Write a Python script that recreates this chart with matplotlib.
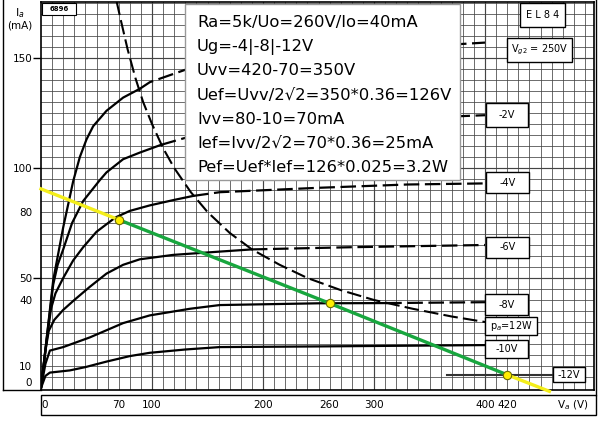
import numpy as np
import matplotlib
matplotlib.use("Agg")
import matplotlib.pyplot as plt
from matplotlib.patches import Rectangle

W, H = 600, 421

# EL84 anode characteristics, Vg2 = 250 V: anode voltage (V) / anode current (mA)
UG0_V = [0, 5, 11, 20, 29, 35, 41, 47, 59, 74, 89, 98, 132, 200, 300, 400]
UG0_I = [0, 22, 49, 73, 94, 105, 113, 119, 126, 132, 136, 139, 145, 150, 154, 157]
UG2_V = [0, 5, 11, 15, 20, 28, 38, 53, 59, 74, 89, 108, 132, 200, 300, 400]
UG2_I = [0, 22, 47, 56, 63, 75, 85, 94.5, 98, 104, 107, 110.5, 114, 118, 122, 124]
UG4_V = [0, 5, 9, 13, 20, 29, 38, 50, 67, 80, 98, 120, 137, 161, 250, 330, 400]
UG4_I = [0, 21, 36, 43, 50, 58, 64, 71, 77.5, 80.5, 83, 85.5, 87.3, 89, 91, 92.5, 93]
UG6_V = [0, 4, 7, 12, 20, 30, 44, 59, 74, 89, 119, 161, 190, 280, 400]
UG6_I = [0, 17, 26, 31, 35.5, 40, 46, 52, 56, 58.5, 60.5, 62, 63, 64, 65]
UG8_V = [0, 4, 8, 20, 44, 74, 98, 134, 161, 250, 311, 400]
UG8_I = [0, 11, 17, 18.6, 23, 29.5, 33, 36, 37.7, 38.5, 38.6, 39]
UG10_V = [0, 4, 8, 26, 40, 59, 80, 98, 130, 161, 250, 400]
UG10_I = [0, 5.5, 7, 8, 9.5, 12, 14.5, 16, 17.5, 18.6, 18.9, 19.5]
UG12_V = [366, 461]
UG12_I = [6, 6]

# max anode dissipation pa = 12 W
PA_V = [68, 72, 78, 85, 92, 100, 110, 120, 135, 150, 170, 190, 215, 240, 270, 300, 335, 370, 400]
PA_I = [176, 167, 154, 141, 130, 120, 109, 100, 89, 80, 70.5, 63, 56, 50, 44.5, 40, 36, 32.5, 30]

# 5k load line and its three working points
LOAD_V = [0, 70, 260, 420, 458]
LOAD_I = [90.5, 76.5, 38.5, 6.0, -1.5]
OP_V = [70, 260, 420]
OP_I = [76.5, 38.5, 6.0]

X_MAJOR = [0, 100, 200, 300, 400]
X_MINOR = [70, 260, 420]
Y_MAJOR = [50, 100, 150]
Y_MINOR = [0, 10, 40, 80]

NOTES = ["Ra=5k/Uo=260V/Io=40mA", "Ug=-4|-8|-12V", "Uvv=420-70=350V",
         "Uef=Uvv/2\u221a2=350*0.36=126V", "Ivv=80-10=70mA",
         "Ief=Ivv/2\u221a2=70*0.36=25mA", "Pef=Uef*Ief=126*0.025=3.2W"]

YELLOW, GREEN = "#f4ee1a", "#18a63e"


def fx(px):
    return px / W


def fy(py):
    return 1 - py / H


fig = plt.figure(figsize=(6, 4.21), dpi=100)
ax = fig.add_axes([fx(41), fy(390), (594 - 41) / W, (390 - 2) / H])
ax.set_xlim(0, (594 - 41) / 1.11)
ax.set_ylim(-2 / 2.2, 386 / 2.2)

# graph paper
for v in range(10, 500, 10):
    ax.axvline(v, color="#444444", lw=0.85 if v % 100 == 0 else 0.55, zorder=1)
for i in range(5, 180, 5):
    ax.axhline(i, color="#444444", lw=0.85 if i % 50 == 0 else 0.55, zorder=1)

for v, i in [(UG0_V, UG0_I), (UG2_V, UG2_I), (UG4_V, UG4_I), (UG6_V, UG6_I),
             (UG8_V, UG8_I), (UG10_V, UG10_I)]:
    v, i = np.array(v, float), np.array(i, float)
    ok = v * i <= 12120
    k = np.argmin(ok) if not ok.all() else len(v)
    ax.plot(v[:k], i[:k], color="black", lw=1.6, zorder=3, solid_joinstyle="round")
    if k < len(v):
        ax.plot(v[k - 1:], i[k - 1:], color="black", lw=1.6, dashes=(7, 2.5), zorder=3)
ax.plot(UG12_V, UG12_I, color="#333333", lw=1.5, zorder=3)
ax.plot(PA_V, PA_I, color="black", lw=1.5, dashes=(7, 2.5), zorder=3)

ax.plot(LOAD_V[:2], LOAD_I[:2], color=YELLOW, lw=2.4, zorder=4, clip_on=False)
ax.plot(LOAD_V[1:4], LOAD_I[1:4], color=GREEN, lw=2.4, zorder=4)
ax.plot(LOAD_V[3:], LOAD_I[3:], color=YELLOW, lw=2.4, zorder=4, clip_on=False)
ax.plot(OP_V, OP_I, "o", ms=6, mfc="#ffee00", mec="#6b6b00", mew=0.8, zorder=5)

ax.set_xticks(X_MAJOR, [str(v) for v in X_MAJOR])
ax.set_xticks(X_MINOR, [str(v) for v in X_MINOR], minor=True)
ax.set_yticks(Y_MAJOR, [str(v) for v in Y_MAJOR])
ax.set_yticks(Y_MINOR, [str(v) for v in Y_MINOR], minor=True)
ax.tick_params(axis="x", which="both", length=0, pad=7.5, labelsize=7.5)
ax.tick_params(axis="y", which="major", length=5.8, width=1, pad=0.5, labelsize=7.5)
ax.tick_params(axis="y", which="minor", length=0, pad=6.3, labelsize=7.5)
for lab in ax.get_xticklabels():
    if lab.get_text() == "0":
        lab.set_ha("left")
for lab in ax.yaxis.get_minorticklabels():
    if lab.get_text() == "0":
        lab.set_va("bottom")
for s in ax.spines.values():
    s.set_linewidth(1.2)

# frame of the scanned sheet
fig.add_artist(plt.Line2D([fx(3), fx(3)], [fy(0), fy(390)], color="black", lw=1))
fig.add_artist(plt.Line2D([fx(3), fx(41)], [fy(390), fy(390)], color="black", lw=1))
fig.add_artist(Rectangle((fx(41), fy(415)), (596 - 41) / W, 20 / H, fill=False,
                         ec="black", lw=1))
fig.add_artist(plt.Line2D([fx(596), fx(596)], [fy(0), fy(395)], color="black", lw=1))

fig.text(fx(20), fy(13), "I$_a$", ha="center", va="center", fontsize=8)
fig.text(fx(20), fy(26), "(mA)", ha="center", va="center", fontsize=7.5)
fig.text(fx(573), fy(405), "V$_a$ (V)", ha="center", va="center", fontsize=7.5)

# curve labels in white boxes
LABELS = [(486, 103, 528, 127, "-2V"), (486, 172, 529, 193, "-4V"),
          (486, 237, 529, 258, "-6V"), (485, 294, 528, 315, "-8V"),
          (485, 317, 537, 335, "p$_a$=12W"), (485, 340, 528, 358, "-10V"),
          (553, 367, 585, 382, "-12V"), (520, 3, 565, 27, "E L 8 4"),
          (507, 38, 572, 62, "V$_{g2}$ = 250V")]
for x0, y0, x1, y1, t in LABELS:
    fig.add_artist(Rectangle((fx(x0), fy(y1)), (x1 - x0) / W, (y1 - y0) / H,
                             fc="white", ec="black", lw=1, zorder=5))
    fig.text(fx((x0 + x1) / 2), fy((y0 + y1) / 2), t, ha="center", va="center",
             fontsize=7, zorder=6)
fig.add_artist(Rectangle((fx(42), fy(15)), 34 / W, 12 / H, fc="white", ec="black",
                         lw=0.8, zorder=5))
fig.text(fx(59), fy(9), "6896", ha="center", va="center", fontsize=5, weight="bold",
         zorder=6)

# worked example
fig.add_artist(Rectangle((fx(185), fy(180)), 275 / W, 176 / H, fc="white", ec="#999999",
                         lw=1, zorder=7))
for k, line in enumerate(NOTES):
    fig.text(fx(197), fy(27 + 24.2 * k), line, ha="left", va="baseline", fontsize=11.8,
             zorder=8)

fig.savefig("out.png", dpi=100)
